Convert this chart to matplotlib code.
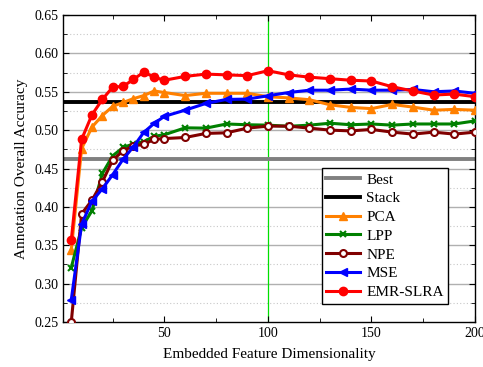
import matplotlib
matplotlib.use("Agg")
import matplotlib.pyplot as plt
from matplotlib.ticker import MultipleLocator, FixedLocator

dims = [5, 10, 15, 20, 25, 30, 35, 40, 45, 50, 60, 70, 80, 90, 100,
        110, 120, 130, 140, 150, 160, 170, 180, 190, 200]

best_val = 0.4622
stack_val = 0.5365

pca = [0.344, 0.476, 0.504, 0.519, 0.531, 0.536, 0.541, 0.545, 0.551, 0.549,
       0.545, 0.548, 0.548, 0.548, 0.5435, 0.542, 0.5396, 0.533, 0.5296, 0.528,
       0.5335, 0.530, 0.526, 0.527, 0.526]
lpp = [0.321, 0.373, 0.395, 0.4435, 0.4665, 0.4774, 0.482, 0.485, 0.492, 0.494,
       0.503, 0.5026, 0.508, 0.507, 0.5065, 0.505, 0.5065, 0.509, 0.507, 0.508,
       0.5065, 0.508, 0.508, 0.508, 0.512]
npe = [0.250, 0.391, 0.4087, 0.4326, 0.461, 0.473, 0.4796, 0.4813, 0.488, 0.489,
       0.4904, 0.4957, 0.4965, 0.5026, 0.5052, 0.5052, 0.5026, 0.500, 0.499, 0.5009,
       0.4974, 0.4948, 0.4974, 0.4948, 0.4974]
mse = [0.279, 0.3774, 0.4074, 0.4235, 0.442, 0.462, 0.4783, 0.497, 0.5087, 0.518,
       0.526, 0.5348, 0.540, 0.5404, 0.5448, 0.549, 0.552, 0.552, 0.5535, 0.552,
       0.552, 0.553, 0.550, 0.551, 0.548]
emr = [0.3565, 0.488, 0.520, 0.540, 0.556, 0.557, 0.566, 0.5757, 0.569, 0.565,
       0.570, 0.573, 0.572, 0.571, 0.5774, 0.572, 0.569, 0.567, 0.565, 0.564,
       0.5565, 0.551, 0.5457, 0.547, 0.5435]

plt.rcParams['font.family'] = ['Liberation Serif', 'DejaVu Serif']

fig = plt.figure(figsize=(4.83, 3.67), dpi=100)
ax = fig.add_axes([63/483, 1-322/367, (475-63)/483, (322-15)/367])

ax.set_xlim(1, 200)
ax.set_ylim(0.25, 0.65)

# grid
for y in [0.30, 0.35, 0.40, 0.45, 0.50, 0.55, 0.60]:
    ax.axhline(y, color='#b0b0b0', lw=1.0, zorder=0)
for y in [0.275, 0.325, 0.375, 0.425, 0.475, 0.525, 0.575, 0.625]:
    ax.axhline(y, color='#c8c8c8', lw=0.8, ls=(0, (1, 2)), zorder=0)

ax.axvline(100, color='#00e000', lw=0.9, zorder=1)

lw = 2.2
ax.plot([1, 200], [best_val, best_val], color='#808080', lw=2.8, label='Best', zorder=2)
ax.plot([1, 200], [stack_val, stack_val], color='black', lw=2.8, label='Stack', zorder=2)
ax.plot(dims, pca, color='#ff8000', lw=lw, marker='^', ms=6, label='PCA', zorder=3)
ax.plot(dims, lpp, color='#008000', lw=lw, marker='x', ms=5, mew=1.5, label='LPP', zorder=3)
ax.plot(dims, npe, color='#800000', lw=lw, marker='o', ms=5, mfc='white', mew=1.5, label='NPE', zorder=3)
ax.plot(dims, mse, color='#0000ff', lw=lw, marker='<', ms=6, label='MSE', zorder=4)
ax.plot(dims, emr, color='#ff0000', lw=lw, marker='o', ms=6, label='EMR-SLRA', zorder=5)

ax.xaxis.set_major_locator(FixedLocator([50, 100, 150, 200]))
ax.xaxis.set_minor_locator(FixedLocator([25, 75, 125, 175]))
ax.yaxis.set_major_locator(MultipleLocator(0.05))
ax.yaxis.set_minor_locator(MultipleLocator(0.025))
ax.set_yticklabels([f'{v:.2f}' for v in ax.get_yticks()])
ax.tick_params(which='both', direction='in', top=True, right=True, labelsize=10)
ax.tick_params(which='major', length=4)
ax.tick_params(which='minor', length=3)
for s in ax.spines.values():
    s.set_linewidth(1.0)

ax.set_xlabel('Embedded Feature Dimensionality', fontsize=11, labelpad=6)
ax.set_ylabel('Annotation Overall Accuracy', fontsize=11)

leg = ax.legend(loc='lower right', bbox_to_anchor=(0.935, 0.06), fontsize=11,
                frameon=True, fancybox=False, edgecolor='black', framealpha=1,
                handlelength=2.2, borderpad=0.3, labelspacing=0.33, handletextpad=0.4,
                borderaxespad=0.0)
leg.get_frame().set_linewidth(1.0)

fig.savefig('out.png', dpi=100)
